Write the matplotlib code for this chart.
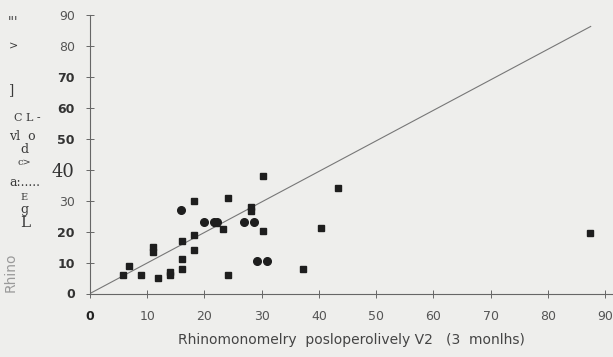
import matplotlib.pyplot as plt

# square markers
square_x = [5.8, 6.9, 8.9, 11.9, 11.0, 11.0, 14.0, 14.0, 16.1, 16.1, 16.1, 18.1, 18.1,
            18.1, 22.1, 23.2, 24.2, 24.2, 28.2, 28.2, 30.2, 30.2, 37.3, 40.3, 43.4, 87.4]
square_y = [5.9, 8.9, 5.9, 5.0, 15.0, 13.5, 7.0, 6.0, 11.1, 8.0, 17.1, 30.0, 19.0,
            14.0, 22.9, 21.0, 31.0, 6.1, 28.1, 26.5, 38.0, 20.1, 8.0, 21.1, 34.1, 19.7]

# round markers
circle_x = [15.9, 20.0, 21.6, 22.2, 27.0, 28.7, 29.1, 30.9]
circle_y = [26.9, 23.0, 23.0, 23.0, 23.0, 23.0, 10.5, 10.5]

# reference line
line_x = [0, 87.5]
line_y = [0, 86.3]

xticks = [0, 10, 20, 30, 40, 50, 60, 70, 80, 90]
yticks = [0, 10, 20, 30, 40, 50, 60, 70, 80, 90]
bold_y = [0, 10, 20, 50, 60, 70]

paper = '#eeeeec'
ink = '#1e1e1e'
grey = '#555555'

fig = plt.figure(figsize=(6.13, 3.57), dpi=100, facecolor=paper)
ax = fig.add_axes([90 / 613, 1 - 293.5 / 357, 523 / 613, 278.5 / 357])
ax.set_facecolor(paper)

ax.plot(line_x, line_y, color='#777777', lw=0.8, zorder=2)
ax.plot(square_x, square_y, ls='none', marker='s', ms=4.8, color=ink, zorder=3)
ax.plot(circle_x, circle_y, ls='none', marker='o', ms=5.5, color=ink, zorder=3)

ax.set_xlim(0, 91.4)
ax.set_ylim(0, 90)
ax.set_xticks(xticks)
ax.set_yticks(yticks)
ax.set_xticklabels([str(t) for t in xticks])
ax.set_yticklabels([str(t) for t in yticks])

for s in ['top', 'right']:
    ax.spines[s].set_visible(False)
for s in ['left', 'bottom']:
    ax.spines[s].set_color('#666666')
    ax.spines[s].set_linewidth(0.8)
    ax.spines[s].set_clip_on(False)

ax.tick_params(direction='inout', length=6, width=0.7, color='#666666',
               labelcolor=grey, labelsize=9)
ax.tick_params(axis='x', pad=9)
ax.tick_params(axis='y', pad=8)

for lab, t in zip(ax.get_yticklabels(), yticks):
    if t in bold_y:
        lab.set_fontweight('bold')
        lab.set_color('#333333')
    if t == 40:
        lab.set_fontfamily('DejaVu Serif')
        lab.set_fontsize(13)
        lab.set_color('#333333')
ax.get_xticklabels()[0].set_fontweight('bold')
ax.get_xticklabels()[0].set_color('#222222')

ax.set_xlabel('Rhinomonomelry  posloperolively V2   (3  monlhs)', fontsize=10,
              color='#444444', labelpad=7)

# faint rotated axis title remnant and scan debris on the left
fig.text(11 / 613, 1 - 292 / 357, 'Rhino', rotation=90,
         fontsize=10, color='#9a9a9a', ha='center', va='bottom')
debris = [("'''", 8, 22, 9), ('>', 9, 47, 8), (']', 9, 90, 10), ('C L -', 14, 118, 8),
          ('vl  o', 9, 137, 9), ('d', 20, 149, 9), ('c>', 18, 163, 7),
          ('a:.....', 9, 183, 9), ('E', 20, 197, 7), ('g', 20, 209, 9), ('L', 20, 223, 11)]
for txt, x, y, fs in debris:
    fig.text(x / 613, 1 - y / 357, txt, fontsize=fs, color='#3a3a3a',
             family='DejaVu Serif', ha='left', va='center')

fig.savefig('out.png', dpi=100, facecolor=paper)
